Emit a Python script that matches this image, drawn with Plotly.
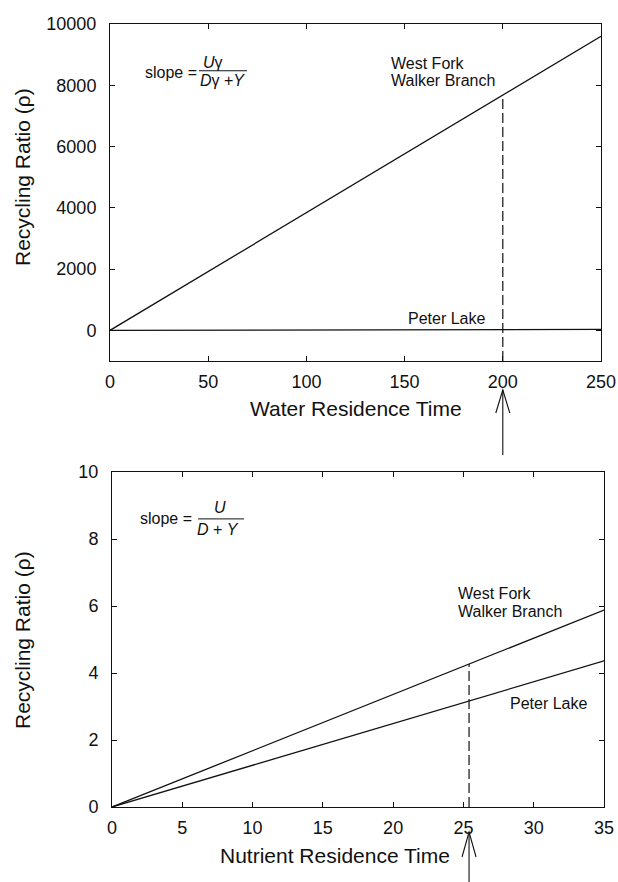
import plotly.graph_objects as go

# ---------------- data ----------------
top_x = [0, 250]
top_west_fork = [0, 9600]
top_peter_lake = [0, 30]
top_marker_x = 200
top_marker_y = 7680

bot_x = [0, 35]
bot_west_fork = [0, 5.88]
bot_peter_lake = [0, 4.36]
bot_marker_x = 25.4
bot_marker_y = 4.27

top_xticks = [0, 50, 100, 150, 200, 250]
top_yticks = [0, 2000, 4000, 6000, 8000, 10000]
top_yticklabels = ["0", "2000", "4000", "6000", "8000", "10000"]
bot_xticks = [0, 5, 10, 15, 20, 25, 30, 35]
bot_yticks = [0, 2, 4, 6, 8, 10]

W, H = 618, 882
FONT = "Arial, Liberation Sans, Helvetica, sans-serif"
INK = "#111111"


def px(v):
    return v / W


def py(v):
    return 1 - v / H


fig = go.Figure()
line_style = dict(color=INK, width=1.3)
fig.add_trace(go.Scatter(x=top_x, y=top_west_fork, mode="lines", line=line_style, xaxis="x", yaxis="y"))
fig.add_trace(go.Scatter(x=top_x, y=top_peter_lake, mode="lines", line=line_style, xaxis="x", yaxis="y"))
fig.add_trace(go.Scatter(x=[top_marker_x, top_marker_x], y=[-1000, top_marker_y], mode="lines",
                         line=dict(color=INK, width=1.2, dash="10px,4px"), xaxis="x", yaxis="y"))
fig.add_trace(go.Scatter(x=bot_x, y=bot_west_fork, mode="lines", line=line_style, xaxis="x2", yaxis="y2"))
fig.add_trace(go.Scatter(x=bot_x, y=bot_peter_lake, mode="lines", line=line_style, xaxis="x2", yaxis="y2"))
fig.add_trace(go.Scatter(x=[bot_marker_x, bot_marker_x], y=[0, bot_marker_y], mode="lines",
                         line=dict(color=INK, width=1.2, dash="10px,4px"), xaxis="x2", yaxis="y2"))

axis_common = dict(showline=True, linecolor=INK, linewidth=1, mirror="ticks", ticks="inside",
                   ticklen=5, tickcolor=INK, showgrid=False, zeroline=False,
                   tickfont=dict(size=18, color=INK, family=FONT), automargin=False, fixedrange=True)

fig.update_layout(
    width=W, height=H, margin=dict(l=0, r=0, t=0, b=0),
    paper_bgcolor="white", plot_bgcolor="white", showlegend=False, hovermode=False,
    font=dict(family=FONT, color=INK),
    xaxis=dict(domain=[px(110), px(601)], range=[0, 250], tickvals=top_xticks, anchor="y",
               ticklabelstandoff=4, **axis_common),
    yaxis=dict(domain=[py(361), py(24)], range=[-1000, 10000], tickvals=top_yticks,
               ticktext=top_yticklabels, anchor="x", ticklabelstandoff=9, **axis_common),
    xaxis2=dict(domain=[px(112), px(604)], range=[0, 35], tickvals=bot_xticks, anchor="y2",
                ticklabelstandoff=4, **axis_common),
    yaxis2=dict(domain=[py(807), py(472)], range=[0, 10], tickvals=bot_yticks, anchor="x2",
                ticklabelstandoff=9, **axis_common),
)

ann = []


def add(text, x, y, xref, yref, size, xanchor="center", **kw):
    ann.append(dict(text=text, x=x, y=y, xref=xref, yref=yref, xanchor=xanchor, yanchor="middle",
                    showarrow=False, font=dict(size=size, family=FONT, color=INK), **kw))


# axis titles
add("Recycling Ratio (ρ)", px(22), py(177), "paper", "paper", 21, textangle=-90)
add("Recycling Ratio (ρ)", px(22), py(640), "paper", "paper", 21, textangle=-90)
add("Water Residence Time", px(356), py(408), "paper", "paper", 21)
add("Nutrient Residence Time", px(335), py(855), "paper", "paper", 21)

# line labels (top)
add("West Fork", 142, 8725, "x", "y", 16, xanchor="left")
add("Walker Branch", 142, 8170, "x", "y", 16, xanchor="left")
add("Peter Lake", 150.8, 392, "x", "y", 16, xanchor="left")
# line labels (bottom)
add("West Fork", 24.5, 6.36, "x2", "y2", 16, xanchor="left")
add("Walker Branch", 24.5, 5.85, "x2", "y2", 16, xanchor="left")
add("Peter Lake", 28.2, 3.10, "x2", "y2", 16, xanchor="left")

# formulas
add("slope =", 16.8, 8431, "x", "y", 16, xanchor="left")
add("<i>U</i>γ", 52.4, 8758, "x", "y", 16)
add("<i>D</i>γ +<i>Y</i>", 57.5, 8170, "x", "y", 16)
add("slope =", 1.85, 8.6, "x2", "y2", 16, xanchor="left")
add("<i>U</i>", 7.68, 8.93, "x2", "y2", 16)
add("<i>D</i> + <i>Y</i>", 7.54, 8.27, "x2", "y2", 16)
fig.update_layout(annotations=ann)

shapes = []
# fraction bars
shapes.append(dict(type="line", xref="x", yref="y", x0=45.3, x1=69.8, y0=8474, y1=8474,
                   line=dict(color=INK, width=1)))
shapes.append(dict(type="line", xref="x2", yref="y2", x0=6.12, x1=9.39, y0=8.6, y1=8.6,
                   line=dict(color=INK, width=1)))


def arrow(xref, xval, tip, barb, tail):
    out = [dict(type="line", xref=xref, yref="paper", x0=xval, x1=xval, y0=py(tail), y1=py(tip),
                line=dict(color=INK, width=1.1))]
    out.append(dict(type="path", xref=xref, yref="paper", xsizemode="pixel", xanchor=xval,
                    path=f"M -7,{py(barb)} L 0,{py(tip)} L 7,{py(barb)}",
                    line=dict(color=INK, width=1.1)))
    return out


shapes += arrow("x", top_marker_x, 390, 413, 455)
shapes += arrow("x2", bot_marker_x, 832, 857, 882)
fig.update_layout(shapes=shapes)

fig.write_html(
    "out.html",
    config={"displayModeBar": False, "staticPlot": True},
    post_script="document.body.style.margin='0';document.body.style.padding='0';"
                "document.documentElement.style.overflow='hidden';",
)
